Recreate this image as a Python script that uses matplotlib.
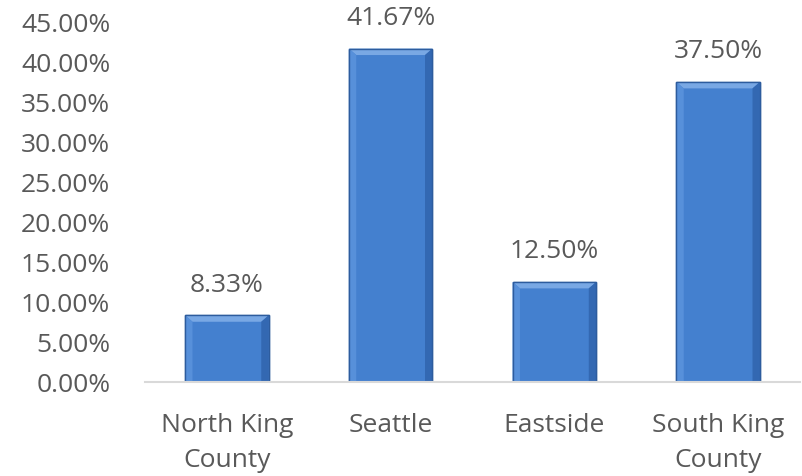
import matplotlib
matplotlib.use("Agg")
import matplotlib.pyplot as plt
from matplotlib.patches import Polygon
from matplotlib.ticker import FuncFormatter

regions = ["North King\nCounty", "Seattle", "Eastside", "South King\nCounty"]
shares = [8.33, 41.67, 12.50, 37.50]
yticks = [0, 5, 10, 15, 20, 25, 30, 35, 40, 45]

TEXT = "#595959"
plt.rcParams["font.family"] = ["Open Sans", "DejaVu Sans"]

fig = plt.figure(figsize=(8.03, 4.76), dpi=100)
ax = fig.add_axes([145 / 803, 1 - 382 / 476, 655 / 803, 360 / 476])

W = 0.51
x = list(range(len(regions)))
ax.bar(x, shares, width=W, color="#4480cf", edgecolor="#2d5c9e", linewidth=1.0, zorder=3)

# bevel facets on each bar (top light, sides shaded)
bx, by = 0.045, 0.8
for i, v in enumerate(shares):
    l, r = i - W / 2, i + W / 2
    facets = [
        ([(l, v), (r, v), (r - bx, v - by), (l + bx, v - by)], "#79a8e4"),
        ([(l, 0), (l, v), (l + bx, v - by), (l + bx, 0)], "#5790da"),
        ([(r, 0), (r, v), (r - bx, v - by), (r - bx, 0)], "#3368b2"),
    ]
    for pts, c in facets:
        ax.add_patch(Polygon(pts, closed=True, facecolor=c, edgecolor="none", zorder=4))
    ax.add_patch(Polygon([(l, 0), (l, v), (r, v), (r, 0)], closed=True, fill=False,
                         edgecolor="#2d5c9e", linewidth=1.0, zorder=5))

for i, v in enumerate(shares):
    ax.text(i, v + 2.2, f"{v:.2f}%", ha="center", va="bottom", fontsize=19, color=TEXT)

ax.set_xlim(-0.5, len(regions) - 0.5)
ax.set_ylim(0, 45)
ax.set_yticks(yticks)
ax.yaxis.set_major_formatter(FuncFormatter(lambda v, _: f"{v:.2f}%"))
ax.set_xticks(x)
ax.set_xticklabels(regions, linespacing=1.55)
ax.tick_params(axis="both", length=0, labelsize=19, labelcolor=TEXT)
ax.tick_params(axis="y", pad=25)
ax.tick_params(axis="x", pad=22)
for side in ["top", "right", "left"]:
    ax.spines[side].set_visible(False)
ax.spines["bottom"].set_color("#d9d9d9")
ax.spines["bottom"].set_linewidth(1.5)
ax.spines["bottom"].set_zorder(6)

fig.savefig("out.png", dpi=100)
